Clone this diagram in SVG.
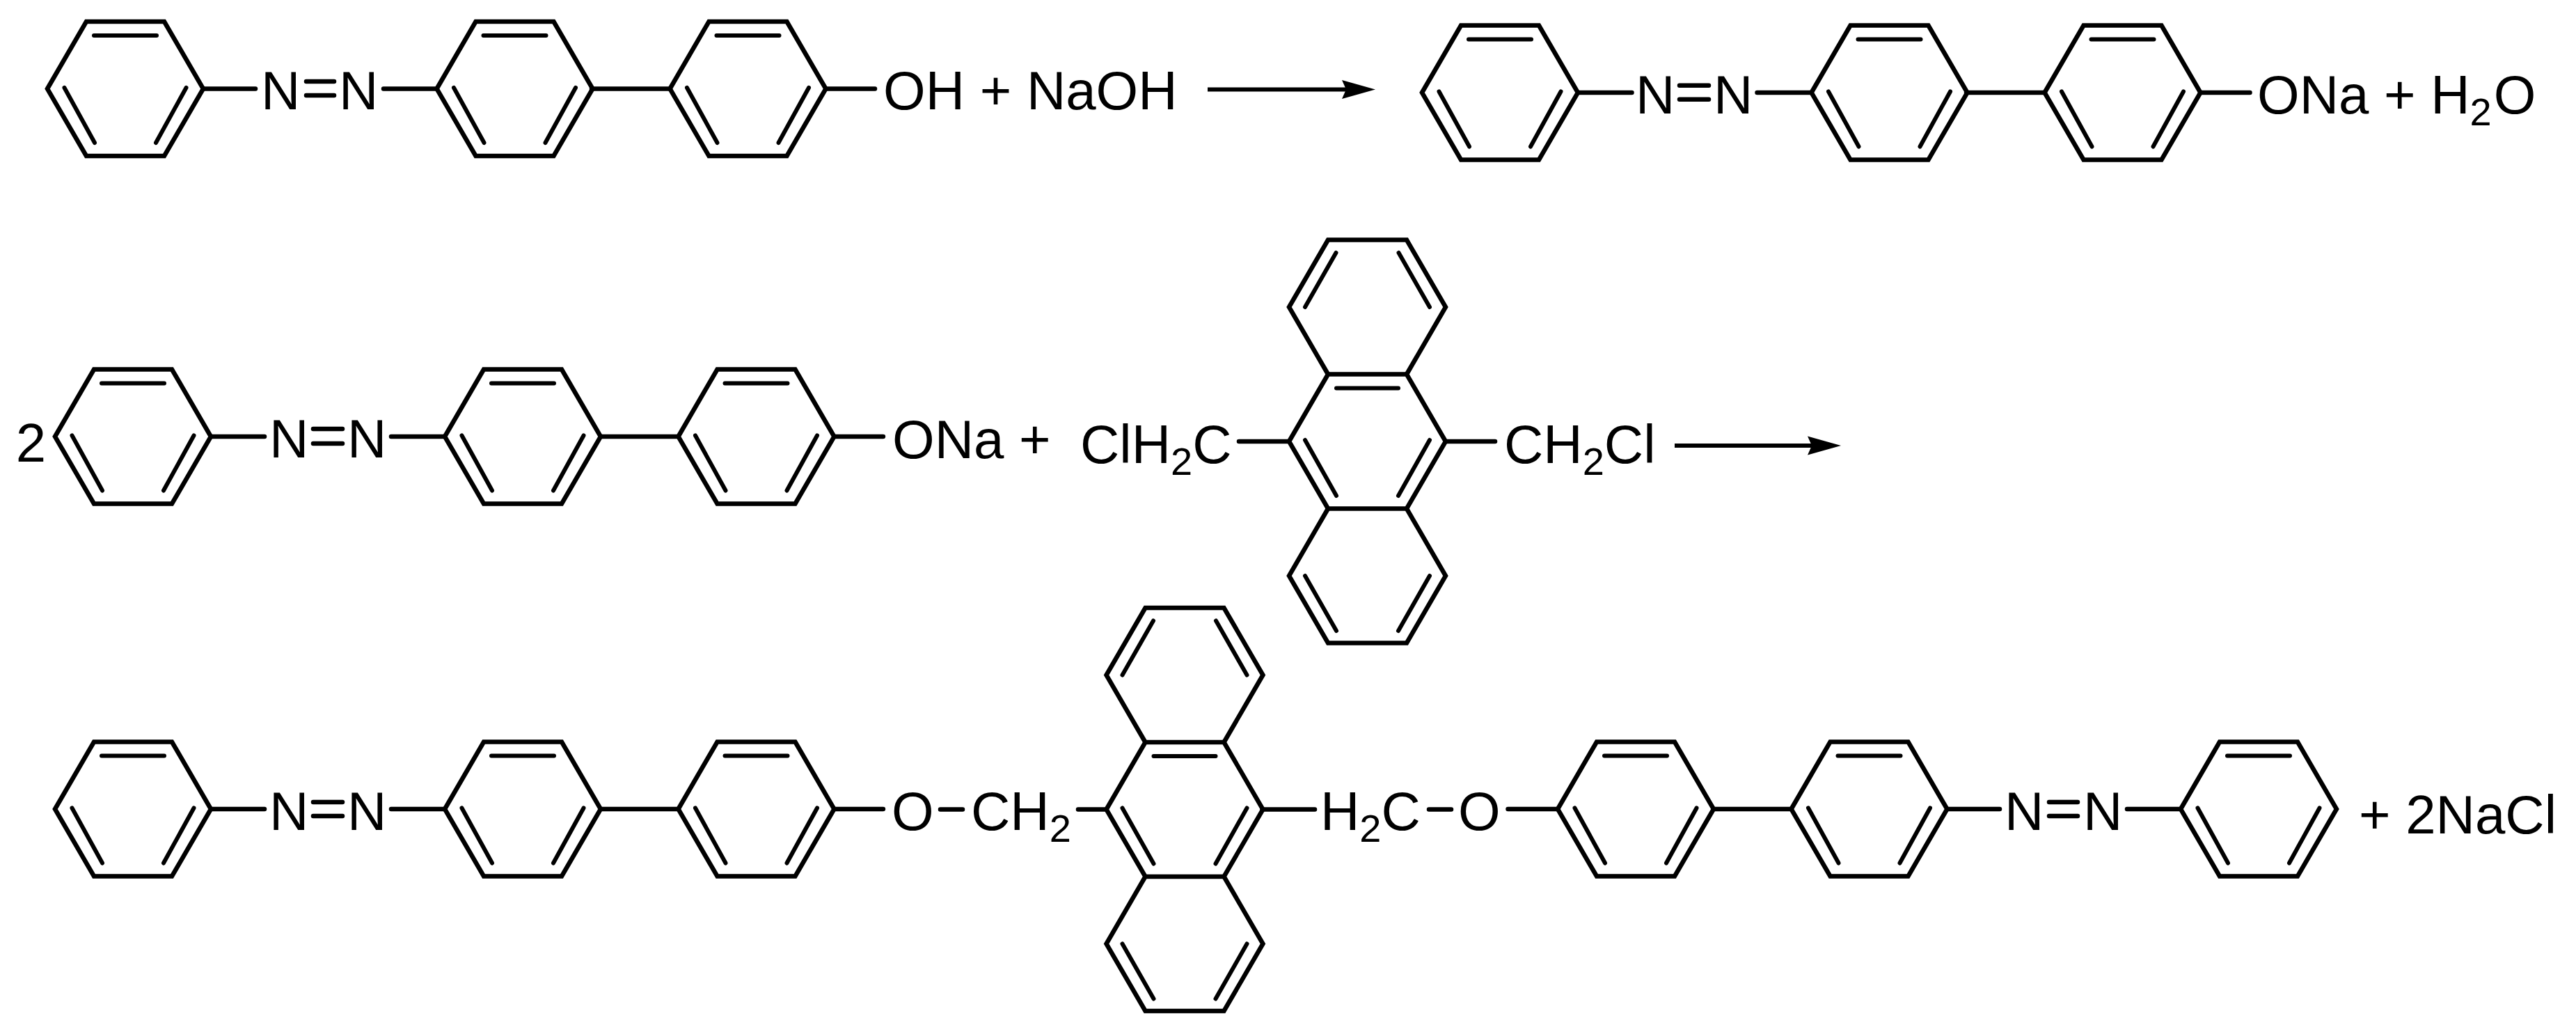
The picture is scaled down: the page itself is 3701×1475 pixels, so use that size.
<svg xmlns="http://www.w3.org/2000/svg" xmlns:xlink="http://www.w3.org/1999/xlink" width="3701" height="1475" viewBox="0 0 3701 1475">
<style>
text{font-family:"Liberation Sans",Arial,sans-serif;font-size:78px;fill:#000}
.s{font-size:56px}
.r{fill:none;stroke:#000;stroke-width:6.5;stroke-linejoin:miter}
.i{fill:none;stroke:#000;stroke-width:6;stroke-linecap:round}
.b{fill:none;stroke:#000;stroke-width:6.5;stroke-linecap:round}
.a{fill:none;stroke:#000;stroke-width:6}
</style>
<defs>
<g id="ph">
<polygon class="r" points="-112,0 -56,-96.5 56,-96.5 112,0 56,96.5 -56,96.5"/>
<path class="i" d="M-45,-76.5H45M-87.5,-1.5L-44,77.5M87.5,-1.5L44,77.5"/>
</g>
<g id="anth">
<path class="r" d="M-56.5,-96.5L-112.5,-193L-56.5,-289.5H56.5L112.5,-193L56.5,-96.5M-56.5,96.5L-112.5,193L-56.5,289.5H56.5L112.5,193L56.5,96.5"/>
<polygon class="r" points="-112.5,0 -56.5,-96.5 56.5,-96.5 112.5,0 56.5,96.5 -56.5,96.5"/>
<path class="i" d="M-45,-271L-89.5,-193M45,-271L89.5,-193M-44.5,-76.5H44.5M-89.5,-2L-44.5,78M89.5,-2L44.5,78M-89.5,193L-44.5,272M89.5,193L44.5,272"/>
</g>
<marker id="head" markerUnits="userSpaceOnUse" markerWidth="48" markerHeight="28" viewBox="0 -14 48 28" refX="6" refY="0" orient="auto">
<path d="M0,-13.5L48,0L0,13.5L6,0Z" fill="#000"/>
</marker>
</defs>
<g id="connectors">
<path class="b" d="M291.5,127.5H367M551,127.5H628M850,127.5H963M1186,127.5H1257M440,117H480M440,137H480"/>
<line class="a" x1="1735" y1="128.5" x2="1934" y2="128.5" marker-end="url(#head)"/>
<path class="b" d="M2266.5,133H2344.5M2524.5,133H2603M2825,133H2938M3161,133H3232.5M2413,122.7H2455M2413,142.7H2455"/>
<path class="b" d="M303,627H380M562,627H639.5M863,627H975M1198,627H1269M450,616H492M450,637H492"/>
<path class="b" d="M1780,634H1852M2077,634H2148"/>
<line class="a" x1="2406" y1="640" x2="2603" y2="640" marker-end="url(#head)"/>
<path class="b" d="M303,1162H380M562,1162H639.5M863,1162H975M1198,1162H1269"/>
<path class="b" d="M450,1152H492M450,1172H492M1351,1162.5H1383M1549,1162.5H1590M1813.5,1162.5H1889M2053,1162.5H2085M2166.5,1162H2238M2462,1162H2574M2797,1162H2873M2944,1152H2985M2944,1172H2985M3056,1162H3133"/>
</g>
<g id="mol-1a">
<use xlink:href="#ph" href="#ph" x="180" y="127.5"/>
<use xlink:href="#ph" href="#ph" x="739.5" y="127.5"/>
<use xlink:href="#ph" href="#ph" x="1074.5" y="127.5"/>
<text x="375" y="157">N</text><text x="487" y="157">N</text>
<text x="1269" y="157">OH + NaOH</text>
</g>
<g id="mol-1b">
<use xlink:href="#ph" href="#ph" x="2155" y="133"/>
<use xlink:href="#ph" href="#ph" x="2714.5" y="133"/>
<use xlink:href="#ph" href="#ph" x="3049.5" y="133"/>
<text x="2350" y="163">N</text><text x="2462" y="163">N</text>
<text x="3243" y="163">ONa + H<tspan class="s" dy="17">2</tspan><tspan dx="3" dy="-17">O</tspan></text>
</g>
<g id="mol-2a">
<text x="22.7" y="663">2</text>
<use xlink:href="#ph" href="#ph" x="191" y="627"/>
<use xlink:href="#ph" href="#ph" x="751" y="627"/>
<use xlink:href="#ph" href="#ph" x="1086.5" y="627"/>
<text x="387" y="657">N</text><text x="499" y="657">N</text>
<text x="1282" y="658">ONa +</text>
</g>
<g id="mol-2b">
<use xlink:href="#anth" href="#anth" x="1964.5" y="634"/>
<text x="1552" y="665">ClH<tspan class="s" dy="17">2</tspan><tspan dy="-17">C</tspan></text>
<text x="2161" y="665">CH<tspan class="s" dy="17">2</tspan><tspan dy="-17">Cl</tspan></text>
</g>
<g id="mol-3">
<use xlink:href="#ph" href="#ph" x="191" y="1162"/>
<use xlink:href="#ph" href="#ph" x="751" y="1162"/>
<use xlink:href="#ph" href="#ph" x="1086.5" y="1162"/>
<text x="387" y="1192">N</text><text x="499" y="1192">N</text>
<text x="1281" y="1192">O</text>
<text x="1395" y="1192">CH<tspan class="s" dy="17">2</tspan></text>
<use xlink:href="#anth" href="#anth" x="1702" y="1162.5"/>
<text x="1897" y="1192">H<tspan class="s" dy="17">2</tspan><tspan dy="-17">C</tspan></text>
<text x="2095" y="1192">O</text>
<use xlink:href="#ph" href="#ph" x="2350" y="1162"/>
<use xlink:href="#ph" href="#ph" x="2685.5" y="1162"/>
<use xlink:href="#ph" href="#ph" x="3245" y="1162"/>
<text x="2880" y="1192">N</text><text x="2993" y="1192">N</text>
<text x="3389" y="1197">+ 2NaCl</text>
</g>
</svg>
